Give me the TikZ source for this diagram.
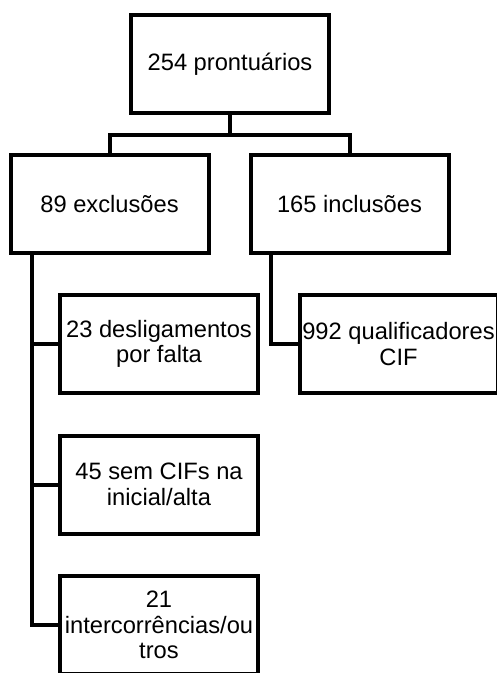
\documentclass[tikz,border=0pt]{standalone}
\usepackage{fontspec}
\setmainfont{Liberation Sans}
\usetikzlibrary{positioning}
\begin{document}
\begin{tikzpicture}[x=1pt,y=-1pt]
	\tikzstyle{caixa}=[draw=black, line width=4pt, minimum width=198pt, minimum height=98pt, inner sep=0pt, align=center, font=\fontsize{23.7}{25.5}\selectfont]
	\tikzstyle{ligacao}=[draw=black, line width=4pt]
	\clip (0,0) rectangle (497,673);
	\node [caixa] (pront) at (230,64) {254 prontuários};
	\node [caixa] (excl) at (109.5,204) {89 exclusões};
	\node [caixa] (incl) at (349.5,204) {165 inclusões};
	\node [caixa] (desl) at (159,344) {23 desligamentos\\por falta};
	\node [caixa] (semcif) at (159,484.5) {45 sem CIFs na\\inicial/alta};
	\node [caixa] (interc) at (159,625) {21\\intercorrências/ou\\tros};
	\node [caixa] (qualif) at (398.5,344) {992 qualificadores\\CIF};
	\coordinate (barra) at (230,134.5);
	\coordinate (troncoE) at (31.5,0);
	\coordinate (troncoD) at (271,0);
	\draw [ligacao] (pront.south) -- (barra);
	\draw [ligacao] (excl.north) |- (barra) -| (incl.north);
	\draw [ligacao] (excl.south -| troncoE) |- (interc.west);
	\draw [ligacao] (troncoE |- desl.west) -- (desl.west);
	\draw [ligacao] (troncoE |- semcif.west) -- (semcif.west);
	\draw [ligacao] (incl.south -| troncoD) |- (qualif.west);
\end{tikzpicture}
\end{document}
